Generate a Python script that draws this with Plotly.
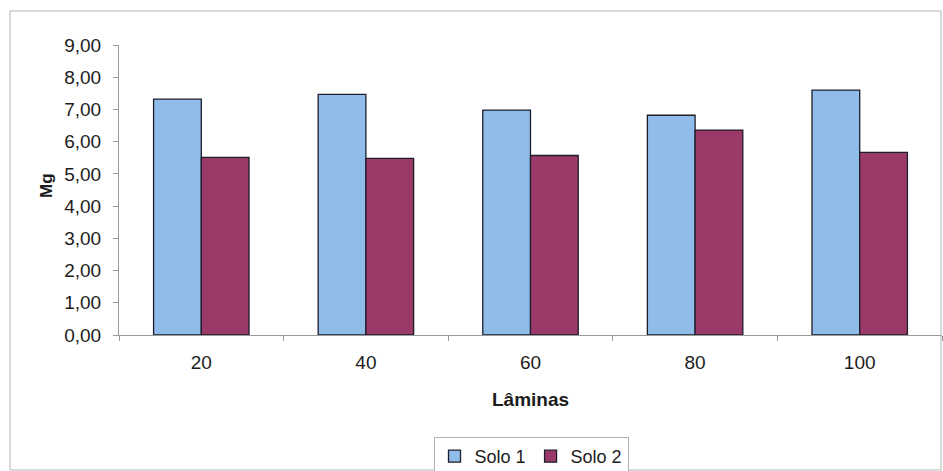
import plotly.graph_objects as go

laminas = ["20", "40", "60", "80", "100"]
solo1 = [7.32, 7.47, 6.98, 6.82, 7.60]
solo2 = [5.51, 5.48, 5.57, 6.36, 5.67]
y_ticks = [0, 1, 2, 3, 4, 5, 6, 7, 8, 9]
y_tick_text = ["0,00", "1,00", "2,00", "3,00", "4,00", "5,00", "6,00", "7,00", "8,00", "9,00"]

W, H = 943, 471
L, R, T, B = 119, 1, 45, 136
pw, ph = W - L - R, H - T - B

font = dict(family="Liberation Sans, Arial, sans-serif", color="#1c1c1c")

fig = go.Figure()
fig.add_trace(go.Bar(x=laminas, y=solo1, name="Solo 1",
                     marker=dict(color="#8FBCE9", line=dict(color="#1e1e2a", width=1.3))))
fig.add_trace(go.Bar(x=laminas, y=solo2, name="Solo 2",
                     marker=dict(color="#9B3A68", line=dict(color="#1e1e2a", width=1.3))))

# outer chart frame
fig.add_shape(type="rect", xref="paper", yref="paper",
              x0=(10 - L) / pw, x1=(941 - L) / pw,
              y0=-(470 - T - ph) / ph, y1=1 + (T - 11) / ph,
              line=dict(color="#b5b5b5", width=1))

# y-axis title placed in the left margin
fig.add_annotation(text="<b>Mg</b>", xref="paper", yref="paper",
                   x=(46 - L) / pw, y=(T + ph - 186) / ph,
                   xanchor="center", yanchor="middle", textangle=-90,
                   showarrow=False, font=dict(size=17))

# x-axis title
fig.add_annotation(text="<b>Lâminas</b>", xref="paper", yref="paper",
                   x=(530 - L) / pw, y=-(399 - T - ph) / ph,
                   xanchor="center", yanchor="middle",
                   showarrow=False, font=dict(size=19))

fig.update_layout(
    width=W, height=H,
    margin=dict(l=L, r=R, t=T, b=B, pad=0, autoexpand=False),
    paper_bgcolor="white", plot_bgcolor="white",
    barmode="group", bargap=0.42, bargroupgap=0,
    font=font,
    showlegend=True,
    legend=dict(orientation="h", x=(531 - L) / pw, xanchor="center",
                y=-(437 - T - ph) / ph, yanchor="top",
                bordercolor="#b0b0b0", borderwidth=1,
                font=dict(size=18, family=font["family"], color="#1c1c1c"),
                itemwidth=30, tracegroupgap=0),
    xaxis=dict(
        automargin=False,
        showline=True, linecolor="#9a9a9a", linewidth=1,
        ticks="outside", tickson="boundaries", ticklen=5, tickcolor="#9a9a9a",
        tickfont=dict(size=19), ticklabelstandoff=10, showgrid=False,
    ),
    yaxis=dict(
        automargin=False,
        range=[0, 9], tickvals=y_ticks, ticktext=y_tick_text,
        showline=True, linecolor="#9a9a9a", linewidth=1,
        ticks="outside", ticklen=5, tickcolor="#9a9a9a",
        tickfont=dict(size=19), ticklabelstandoff=8, showgrid=False, zeroline=False,
    ),
)

fig.write_html("out.html")
